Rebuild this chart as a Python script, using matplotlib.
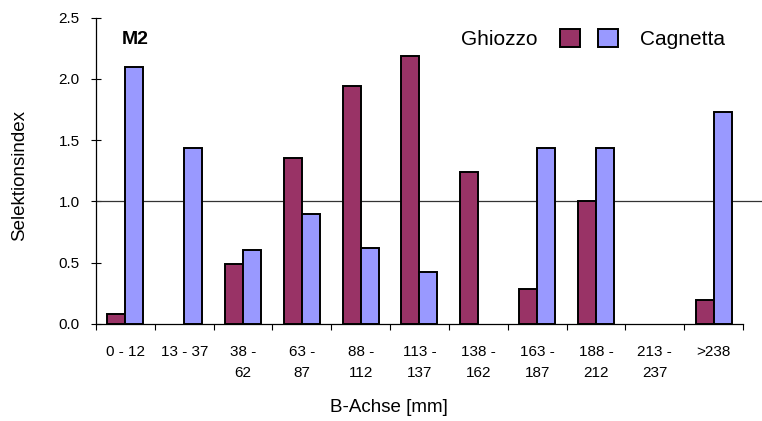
import matplotlib
matplotlib.use("Agg")
import matplotlib.pyplot as plt
import numpy as np

plt.rcParams['font.family'] = ['Liberation Sans', 'DejaVu Sans']

categories = ['0 - 12', '13 - 37', '38 -\n62', '63 -\n87', '88 -\n112', '113 -\n137',
              '138 -\n162', '163 -\n187', '188 -\n212', '213 -\n237', '>238']
ghiozzo = [0.08, 0.0, 0.49, 1.355, 1.94, 2.19, 1.24, 0.28, 1.0, 0.0, 0.195]
cagnetta = [2.1, 1.435, 0.605, 0.895, 0.62, 0.42, 0.0, 1.435, 1.435, 0.0, 1.73]

fig = plt.figure(figsize=(7.62, 4.21), dpi=100)
ax = fig.add_axes([96 / 762, 1 - 323.7 / 421, 1 - 96 / 762, (323.7 - 17.7) / 421])

x = np.arange(len(categories))
w = 0.306
b1 = ax.bar(x - w / 2, ghiozzo, w, color='#993366', edgecolor='black', linewidth=1.4, zorder=3)
b2 = ax.bar(x + w / 2, cagnetta, w, color='#9999FF', edgecolor='black', linewidth=1.4, zorder=3)
# Excel shows nothing for empty bars
for p in list(b1) + list(b2):
    if p.get_height() == 0:
        p.set_linewidth(0)

ax.axhline(1.0, color='#333333', linewidth=0.9, zorder=2)

ax.set_ylim(0, 2.5)
ax.set_xlim(-0.5, 10.5 + 19 / 58.8)
ax.set_yticks([0, 0.5, 1.0, 1.5, 2.0, 2.5])
ax.set_yticklabels(['0.0', '0.5', '1.0', '1.5', '2.0', '2.5'])
ax.set_xticks(x)
ax.set_xticklabels(categories, linespacing=1.6)
ax.set_xticks(np.arange(-0.5, 11, 1.0), minor=True)
ax.tick_params(axis='x', which='major', length=0, pad=15.5, labelsize=11)
ax.tick_params(axis='x', which='minor', length=4.5, width=0.8, direction='out')
ax.tick_params(axis='y', length=6.5, width=0.8, direction='inout', pad=8.5, labelsize=11)

for s in ['top', 'right']:
    ax.spines[s].set_visible(False)
ax.spines['bottom'].set_bounds(-0.5, 10.5)
ax.spines['left'].set_linewidth(0.9)
ax.spines['bottom'].set_linewidth(0.9)

ax.set_ylabel('Selektionsindex', fontsize=13.5, va='center')
ax.yaxis.set_label_coords(20 / 762, 1 - 175 / 421, transform=fig.transFigure)
ax.set_xlabel('B-Achse [mm]', fontsize=13.5, va='center')
ax.xaxis.set_label_coords(389 / 762, 1 - 408 / 421, transform=fig.transFigure)

fig.text(122 / 762, 1 - 40 / 421, 'M2', fontsize=14, fontweight='bold', va='center', ha='left')

leg1 = ax.legend([b1], ['Ghiozzo'], markerfirst=False, loc='center',
                 bbox_to_anchor=(520.5 / 762, 1 - 39 / 421), bbox_transform=fig.transFigure,
                 frameon=False, fontsize=15, handlelength=0.95, handleheight=0.95,
                 handletextpad=1.05, borderpad=0, borderaxespad=0)
ax.add_artist(leg1)
ax.legend([b2], ['Cagnetta'], loc='center',
          bbox_to_anchor=(661.5 / 762, 1 - 39 / 421), bbox_transform=fig.transFigure,
          frameon=False, fontsize=15, handlelength=0.95, handleheight=0.95,
          handletextpad=1.05, borderpad=0, borderaxespad=0)

fig.savefig('out.png', dpi=100)
